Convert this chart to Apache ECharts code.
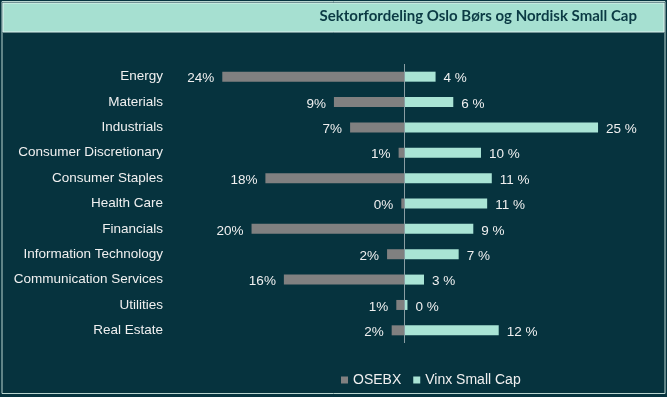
<!DOCTYPE html>
<html>
<head>
<meta charset="utf-8">
<script src="https://cdn.jsdelivr.net/npm/echarts@6/dist/echarts.min.js"></script>
<style>
  html, body { margin: 0; padding: 0; background: #06333e; }
  #chart { width: 667px; height: 397px; }
</style>
</head>
<body>
<div id="chart"></div>
<script>
const sectors = ['Energy', 'Materials', 'Industrials', 'Consumer Discretionary', 'Consumer Staples',
    'Health Care', 'Financials', 'Information Technology', 'Communication Services', 'Utilities', 'Real Estate'];
// weights in percent
const osebx = [23.6, 9.1, 7.0, 0.7, 18.0, 0.35, 19.8, 2.2, 15.6, 1.0, 1.6];
const vinx = [4.1, 6.4, 25.2, 10.0, 11.4, 10.8, 9.0, 7.1, 2.6, 0.45, 12.3];

const chart = echarts.init(document.getElementById('chart'));
const fontFamily = 'Liberation Sans, Arial, sans-serif';

chart.setOption({
    backgroundColor: '#06333e',
    animation: false,
    graphic: [
        { type: 'rect', shape: { x: 2, y: 1.5, width: 663, height: 392 },
          style: { fill: 'none', stroke: '#b9d6d0', lineWidth: 1 }, z: 0 },
        { type: 'rect', shape: { x: 3, y: 3, width: 661, height: 29 },
          style: { fill: '#a6e0d1', stroke: '#dff3ee', lineWidth: 1 }, z: 0 },
        { type: 'text', right: 30, top: 9,
          style: { text: 'Sektorfordeling Oslo Børs og Nordisk Small Cap', fill: '#0b3a44',
                   font: 'bold 15px Lato, sans-serif' }, z: 1 }
    ],
    legend: {
        data: ['OSEBX', 'Vinx Small Cap'],
        left: 336,
        top: 368,
        icon: 'rect',
        itemWidth: 7,
        itemHeight: 7,
        itemGap: 12,
        textStyle: { color: '#f0f0f0', fontSize: 14, fontFamily: fontFamily }
    },
    grid: { left: 173, right: 32, top: 64, bottom: 54 },
    xAxis: {
        type: 'value',
        min: -30,
        max: 30,
        show: false
    },
    yAxis: {
        type: 'category',
        data: sectors,
        inverse: true,
        axisLine: { show: false },
        axisTick: { show: false },
        splitLine: { show: false },
        axisLabel: { color: '#f0f0f0', fontSize: 13.5, fontFamily: fontFamily, margin: 10 }
    },
    series: [
        {
            name: 'OSEBX',
            type: 'bar',
            data: osebx.map(v => -v),
            barWidth: 10,
            barGap: '-100%',
            itemStyle: { color: '#808080' },
            label: {
                show: true,
                position: 'left',
                distance: 8,
                offset: [0, 2],
                color: '#f0f0f0',
                fontSize: 13.5,
                fontFamily: fontFamily,
                formatter: p => Math.round(Math.abs(p.value)) + '%'
            },
            markLine: {
                silent: true,
                symbol: 'none',
                label: { show: false },
                lineStyle: { color: '#8a9ea3', type: 'solid', width: 1 },
                data: [{ xAxis: 0 }]
            }
        },
        {
            name: 'Vinx Small Cap',
            type: 'bar',
            data: vinx,
            barWidth: 10,
            itemStyle: { color: '#a9e4d5' },
            label: {
                show: true,
                position: 'right',
                distance: 8,
                offset: [0, 2],
                color: '#f0f0f0',
                fontSize: 13.5,
                fontFamily: fontFamily,
                formatter: p => Math.round(p.value) + ' %'
            }
        }
    ]
});
window.addEventListener('resize', () => chart.resize());
</script>
</body>
</html>
